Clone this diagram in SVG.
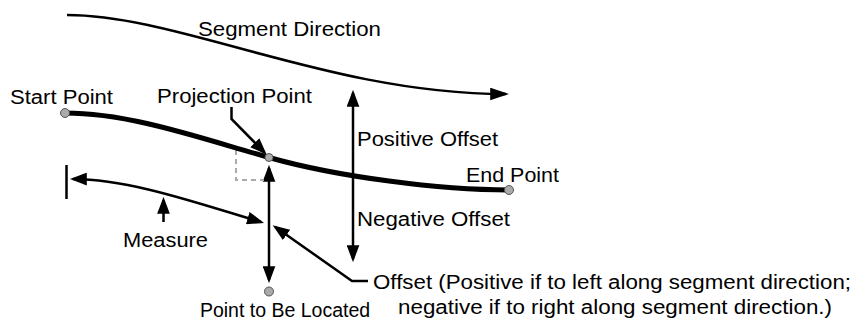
<svg xmlns="http://www.w3.org/2000/svg" width="853" height="320" viewBox="0 0 853 320">
<style>
text{font-family:"Liberation Sans",Arial,Helvetica,sans-serif;font-size:19.5px;fill:#000}
.thin{fill:none;stroke:#000;stroke-width:2.5}
.main{fill:none;stroke:#000;stroke-width:5}
.pt{fill:#aaa;stroke:#555;stroke-width:1}
.dash{fill:none;stroke:#aaa;stroke-width:2;stroke-dasharray:5,4}
</style>
<defs>
<marker id="ah" markerUnits="userSpaceOnUse" markerWidth="17" markerHeight="13" viewBox="0 0 16 12" refX="13" refY="6" orient="auto-start-reverse">
<path d="M0,0 L16,6 L0,12 z" fill="#000"/>
</marker>
<marker id="ahBig" markerUnits="userSpaceOnUse" markerWidth="19" markerHeight="13" viewBox="0 0 18 12" refX="15" refY="6" orient="auto">
<path d="M0,0 L18,6 L0,12 z" fill="#000"/>
</marker>
</defs>
<g id="connectors">
<path id="segment-direction" class="thin" d="M67,15 C180,15 330,94 506,94" marker-end="url(#ahBig)"/>
<path id="measure-arrow" class="thin" d="M73,179 C130,179 200,204 261,222" marker-start="url(#ah)" marker-end="url(#ah)"/>
<line id="measure-bar" x1="66.5" y1="165" x2="66.5" y2="199" stroke="#000" stroke-width="2.5"/>
<line id="measure-pointer" x1="163.5" y1="222" x2="163.5" y2="200" class="thin" marker-end="url(#ah)"/>
<line id="offset-arrow" x1="269" y1="168" x2="269" y2="280" class="thin" marker-start="url(#ah)" marker-end="url(#ah)"/>
<line id="pos-neg-arrow" x1="353" y1="93" x2="353" y2="259" class="thin" marker-start="url(#ah)" marker-end="url(#ah)"/>
<path id="projection-pointer" class="thin" d="M231.5,107 L231.5,119 L264.5,152.5" marker-end="url(#ah)"/>
<path id="offset-pointer" class="thin" d="M368,281 L352,281 L275.3,227" marker-end="url(#ah)"/>
<path id="right-angle" class="dash" d="M236,150 L236,180 L264,180"/>
</g>
<g id="segment">
<path class="main" d="M65,113 C130,113 200,138 269,157.5 S440,190 509,190"/>
</g>
<g id="start-point">
<circle class="pt" cx="65" cy="113" r="4.5"/>
<text x="10" y="103.5" textLength="103" lengthAdjust="spacingAndGlyphs">Start Point</text>
</g>
<g id="end-point">
<circle class="pt" cx="509" cy="190" r="4.5"/>
<text x="466" y="182" textLength="93" lengthAdjust="spacingAndGlyphs">End Point</text>
</g>
<g id="projection-point">
<circle class="pt" cx="269" cy="157.5" r="4"/>
<text x="157" y="102.5" textLength="155" lengthAdjust="spacingAndGlyphs">Projection Point</text>
</g>
<g id="point-to-be-located">
<circle class="pt" cx="269" cy="291.5" r="4.5"/>
<text x="285" y="316.5" text-anchor="middle">Point to Be Located</text>
</g>
<g id="labels">
<text x="198" y="36" textLength="183" lengthAdjust="spacingAndGlyphs">Segment Direction</text>
<text x="357" y="146" textLength="141" lengthAdjust="spacingAndGlyphs">Positive Offset</text>
<text x="357" y="226" textLength="153" lengthAdjust="spacingAndGlyphs">Negative Offset</text>
<text x="123" y="247" textLength="85" lengthAdjust="spacingAndGlyphs">Measure</text>
<text x="373" y="289" textLength="478" lengthAdjust="spacingAndGlyphs">Offset (Positive if to left along segment direction;</text>
<text x="398" y="313.5" textLength="434" lengthAdjust="spacingAndGlyphs">negative if to right along segment direction.)</text>
</g>
</svg>
